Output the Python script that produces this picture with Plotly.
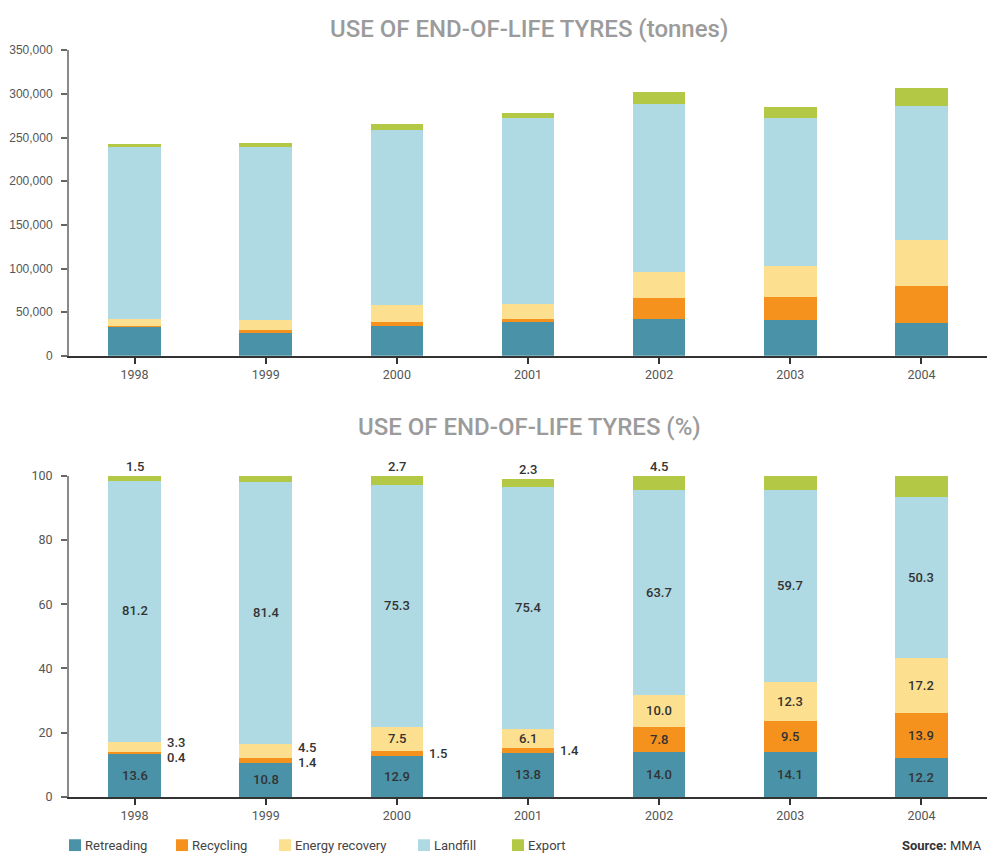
import plotly.graph_objects as go

# ---- data -------------------------------------------------------------
years = ["1998", "1999", "2000", "2001", "2002", "2003", "2004"]
series = ["Retreading", "Recycling", "Energy recovery", "Landfill", "Export"]
colors = ["#4a92a8", "#f5921e", "#fde08f", "#b0dae3", "#b3c946"]

# tonnes
retreading_t = [32900, 26400, 34300, 38400, 42200, 40200, 37300]
recycling_t = [1000, 3400, 4000, 3900, 23500, 27100, 42500]
energy_t = [8000, 11000, 20000, 17000, 30200, 35100, 52600]
landfill_t = [196500, 198600, 200300, 212500, 192100, 170100, 153900]
export_t = [3600, 4600, 7200, 6400, 13600, 12500, 19900]

# shares (%)
retreading_p = [13.6, 10.8, 12.9, 13.8, 14.0, 14.1, 12.2]
recycling_p = [0.4, 1.4, 1.5, 1.4, 7.8, 9.5, 13.9]
energy_p = [3.3, 4.5, 7.5, 6.1, 10.0, 12.3, 17.2]
landfill_p = [81.2, 81.4, 75.3, 75.4, 63.7, 59.7, 50.3]
export_p = [1.5, 1.9, 2.7, 2.3, 4.5, 4.4, 6.5]

tonnes = [retreading_t, recycling_t, energy_t, landfill_t, export_t]
shares = [retreading_p, recycling_p, energy_p, landfill_p, export_p]

y_ticks_t = [0, 50000, 100000, 150000, 200000, 250000, 300000, 350000]
y_ticks_p = [0, 20, 40, 60, 80, 100]

# ---- figure -----------------------------------------------------------
W, H = 987, 861
FONT = "Roboto"
TXT = "#333333"
TICK = "#555555"

fig = go.Figure()
x_idx = list(range(len(years)))

for name, col, vals in zip(series, colors, tonnes):
    fig.add_trace(go.Bar(x=x_idx, y=vals, name=name, marker_color=col,
                         marker_line_width=0, width=0.4,
                         xaxis="x", yaxis="y", showlegend=False,
                         hoverinfo="skip"))
for name, col, vals in zip(series, colors, shares):
    fig.add_trace(go.Bar(x=x_idx, y=vals, name=name, marker_color=col,
                         marker_line_width=0, width=0.4,
                         xaxis="x2", yaxis="y2", showlegend=False,
                         hoverinfo="skip"))


def px_y(p):
    """pixel row -> paper fraction"""
    return 1 - p / H


def px_x(p):
    """pixel column -> paper fraction"""
    return p / W


x_dom = [px_x(69), 1.0]
top_dom = [px_y(354), px_y(43)]
bot_dom = [px_y(803), px_y(476)]
px_per_pct = (803 - 476) / 100.0

xaxis_common = dict(
    tickmode="array", tickvals=x_idx, ticktext=years,
    range=[-0.5, len(years) - 0.5], tickson="boundaries",
    ticks="outside", ticklen=6, tickwidth=1.5, tickcolor="#333333",
    showline=True, linecolor="#333333", linewidth=1.5,
    showgrid=False, zeroline=False,
    tickfont=dict(family=FONT, size=12.5, color=TICK),
    fixedrange=True,
)
yaxis_common = dict(
    ticks="outside", ticklen=6, tickwidth=1.5, tickcolor="#666666",
    showline=True, linecolor="#8a8a8a", linewidth=2,
    showgrid=False, zeroline=False, ticklabelstandoff=6,
    fixedrange=True,
)

fig.update_layout(
    width=W, height=H, autosize=False,
    margin=dict(l=0, r=0, t=0, b=0),
    paper_bgcolor="white", plot_bgcolor="white",
    barmode="stack", bargap=0,
    xaxis=dict(domain=x_dom, anchor="y", **xaxis_common),
    yaxis=dict(domain=top_dom, anchor="x", range=[0, 350000],
               tickmode="array", tickvals=y_ticks_t, tickformat=",",
               tickfont=dict(family="Liberation Sans", size=12, color=TICK),
               **yaxis_common),
    xaxis2=dict(domain=x_dom, anchor="y2", **xaxis_common),
    yaxis2=dict(domain=bot_dom, anchor="x2", range=[0, 100],
                tickmode="array", tickvals=y_ticks_p,
                tickfont=dict(family=FONT, size=12.5, color=TICK),
                **yaxis_common),
    showlegend=False,
)

annotations = []
title_font = dict(family=FONT, size=24, color="#9b9b9b", weight=500)
annotations.append(dict(text="USE OF END-OF-LIFE TYRES (tonnes)", xref="paper", yref="paper",
                        x=px_x(529), y=px_y(21), xanchor="center",
                        yanchor="middle", showarrow=False, font=title_font))
annotations.append(dict(text="USE OF END-OF-LIFE TYRES (%)", xref="paper", yref="paper",
                        x=px_x(529), y=px_y(426), xanchor="center",
                        yanchor="middle", showarrow=False, font=title_font))

# value labels on the percentage chart
lab_font = dict(family=FONT, size=13, color=TXT, weight=500)
MIN_GAP = 15  # px between two stacked outside labels
for i in x_idx:
    base = 0.0
    bounds = []
    for vals in shares:
        bounds.append((base, base + vals[i]))
        base += vals[i]
    r0, r1 = bounds[0]
    c0, c1 = bounds[1]
    e0, e1 = bounds[2]
    l0, l1 = bounds[3]
    top = bounds[4][1]
    # retreading and landfill: centred inside
    for (a, b), v in [((r0, r1), retreading_p[i]), ((l0, l1), landfill_p[i])]:
        annotations.append(dict(text=f"{v:.1f}", x=i, y=(a + b) / 2, xref="x2", yref="y2",
                                showarrow=False, font=lab_font))
    energy_out = energy_p[i] < 5
    recyc_out = recycling_p[i] < 5
    e_mid = (e0 + e1) / 2
    c_mid = (c0 + c1) / 2
    e_shift = c_shift = 0.0
    if energy_out and recyc_out:
        gap = (e_mid - c_mid) * px_per_pct
        if gap < MIN_GAP:
            spread = (MIN_GAP - gap) / 2
            e_shift, c_shift = spread, -spread
    # energy recovery
    if energy_out:
        annotations.append(dict(text=f"{energy_p[i]:.1f}", x=i + 0.2, y=e_mid,
                                xref="x2", yref="y2", xanchor="left", xshift=4,
                                yshift=e_shift, showarrow=False, font=lab_font))
    else:
        annotations.append(dict(text=f"{energy_p[i]:.1f}", x=i, y=e_mid,
                                xref="x2", yref="y2", showarrow=False, font=lab_font))
    # recycling
    if recyc_out:
        annotations.append(dict(text=f"{recycling_p[i]:.1f}", x=i + 0.2, y=c_mid,
                                xref="x2", yref="y2", xanchor="left", xshift=4,
                                yshift=c_shift, showarrow=False, font=lab_font))
    else:
        annotations.append(dict(text=f"{recycling_p[i]:.1f}", x=i, y=c_mid,
                                xref="x2", yref="y2", showarrow=False, font=lab_font))
    # export above the bar
    annotations.append(dict(text=f"{export_p[i]:.1f}", x=i, y=top, xref="x2", yref="y2",
                            yanchor="bottom", yshift=0, showarrow=False, font=lab_font))

# legend row
leg_x = [69, 176, 279, 418, 512]
leg_y = 852
shapes = []
for name, col, lx in zip(series, colors, leg_x):
    shapes.append(dict(type="rect", xref="paper", yref="paper",
                       x0=px_x(lx), x1=px_x(lx + 12),
                       y0=px_y(leg_y + 6), y1=px_y(leg_y - 6),
                       fillcolor=col, line_width=0))
    annotations.append(dict(text=name, xref="paper", yref="paper",
                            x=px_x(lx + 14), y=px_y(leg_y), xanchor="left",
                            yanchor="middle", showarrow=False,
                            font=dict(family=FONT, size=13, color="#444444")))

annotations.append(dict(text="<b>Source:</b> MMA", xref="paper", yref="paper",
                        x=px_x(984), y=px_y(leg_y), xanchor="right", yanchor="middle",
                        showarrow=False,
                        font=dict(family=FONT, size=13, color="#333333")))

fig.update_layout(annotations=annotations, shapes=shapes)

fig.write_html("out.html")
